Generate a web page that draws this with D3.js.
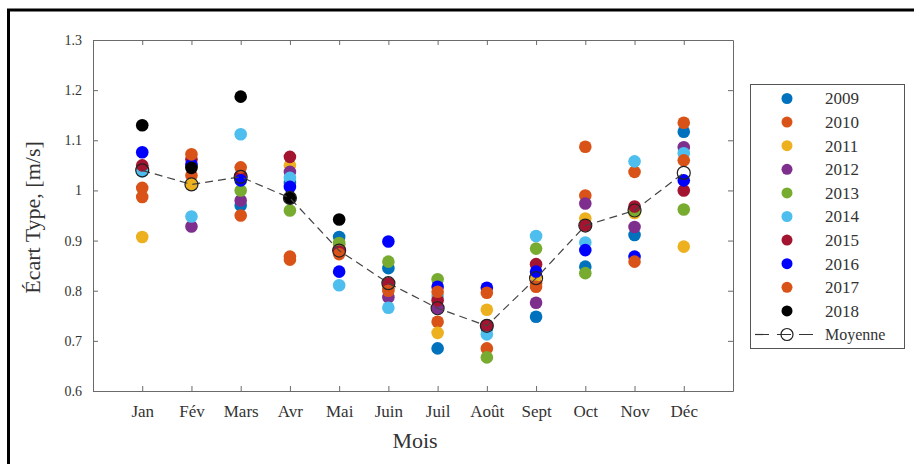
<!DOCTYPE html>
<html>
<head>
<meta charset="utf-8">
<script src="https://cdn.jsdelivr.net/npm/d3@7"></script>
<style>
  html, body { margin: 0; padding: 0; background: #fff; }
  svg { display: block; }
  text { font-family: "Liberation Serif", "DejaVu Serif", serif; fill: #333; }
</style>
</head>
<body>
<svg id="chart" width="914" height="464"></svg>
<script>
// Monthly standard deviation of wind speed, one series per year
const months = ["Jan", "Fév", "Mars", "Avr", "Mai", "Juin", "Juil", "Août", "Sept", "Oct", "Nov", "Déc"];
const years = ["2009", "2010", "2011", "2012", "2013", "2014", "2015", "2016", "2017", "2018"];
const yearColors = ["#0072BD", "#D95319", "#EDB120", "#7E2F8E", "#77AC30", "#4DBEEE", "#A2142F", "#0000FF", "#D95319", "#000000"];

const s2009 = [1.040, 1.012, 0.970, 1.015, 0.907, 0.845, 0.685, 0.725, 0.748, 0.848, 0.911, 1.117];
const s2010 = [1.005, 1.030, 0.950, 0.868, 0.892, 0.805, 0.738, 0.685, 0.815, 0.990, 1.037, 1.135];
const s2011 = [0.907, 1.012, 1.030, 1.050, 0.885, 0.810, 0.716, 0.762, 0.830, 0.944, 0.955, 0.888];
const s2012 = [1.045, 0.928, 0.980, 1.037, 0.880, 0.787, 0.765, 0.730, 0.776, 0.974, 0.927, 1.086];
const s2013 = [1.040, 1.048, 1.000, 0.960, 0.895, 0.858, 0.823, 0.667, 0.884, 0.835, 0.960, 0.962];
const s2014 = [1.038, 0.948, 1.112, 1.025, 0.811, 0.766, 0.790, 0.713, 0.909, 0.896, 1.058, 1.074];
const s2015 = [1.050, 1.062, 1.030, 1.067, 0.878, 0.815, 0.781, 0.731, 0.853, 0.930, 0.968, 1.000];
const s2016 = [1.076, 1.052, 1.020, 1.007, 0.838, 0.898, 0.808, 0.806, 0.838, 0.881, 0.868, 1.020];
const s2017 = [0.987, 1.072, 1.046, 0.862, 0.873, 0.800, 0.798, 0.796, 0.808, 1.087, 0.858, 1.060];
const s2018 = [1.130, 1.045, 1.187, 0.985, 0.942, null, null, null, null, null, null, null];
const moyenne = [1.040, 1.012, 1.027, 0.985, 0.880, 0.815, 0.765, 0.730, 0.825, 0.930, 0.960, 1.035];

const yTicks = [0.6, 0.7, 0.8, 0.9, 1.0, 1.1, 1.2, 1.3];
const yTickLabels = ["0.6", "0.7", "0.8", "0.9", "1", "1.1", "1.2", "1.3"];

const yearValues = [s2009, s2010, s2011, s2012, s2013, s2014, s2015, s2016, s2017, s2018];
const series = years.map((y, i) => ({ year: y, color: yearColors[i], values: yearValues[i] }));

const svg = d3.select("#chart");
const plot = { left: 93, right: 733, top: 40, bottom: 391 };

// Figure frame
svg.append("path")
  .attr("d", "M8.5,464V10H914")
  .attr("fill", "none").attr("stroke", "#000").attr("stroke-width", 3);

const x = d3.scaleLinear().domain([0, 13]).range([plot.left, plot.right]);
const y = d3.scaleLinear().domain([0.6, 1.3]).range([plot.bottom, plot.top]);
const monthIdx = months.map((m, i) => i + 1);

const axisColor = "#6a6a6a";
function styleAxis(g) {
  g.selectAll("path, line").attr("stroke", axisColor);
  g.selectAll("text").attr("fill", "#333");
}

svg.append("g").attr("transform", `translate(0,${plot.bottom})`)
  .call(d3.axisBottom(x).tickValues(monthIdx).tickFormat(i => months[i - 1]).tickSizeInner(-5).tickSizeOuter(0).tickPadding(14))
  .call(styleAxis)
  .call(g => g.selectAll("text").attr("font-size", 17).style("font-family", '"Liberation Serif", serif'));

svg.append("g").attr("transform", `translate(0,${plot.top})`)
  .call(d3.axisTop(x).tickValues(monthIdx).tickFormat("").tickSizeInner(-5).tickSizeOuter(0))
  .call(styleAxis);

svg.append("g").attr("transform", `translate(${plot.left},0)`)
  .call(d3.axisLeft(y).tickValues(yTicks).tickFormat((d, i) => yTickLabels[i]).tickSizeInner(-5).tickSizeOuter(0).tickPadding(11))
  .call(styleAxis)
  .call(g => g.selectAll("text").attr("font-size", 14).style("font-family", '"Liberation Serif", serif'));

svg.append("g").attr("transform", `translate(${plot.right},0)`)
  .call(d3.axisRight(y).tickValues(yTicks).tickFormat("").tickSizeInner(-5).tickSizeOuter(0))
  .call(styleAxis);

// Axis titles
svg.append("text")
  .attr("transform", `translate(40,${(plot.top + plot.bottom) / 2 + 2}) rotate(-90)`)
  .attr("text-anchor", "middle")
  .attr("font-size", 22)
  .text("Écart Type, [m/s]");

svg.append("text")
  .attr("x", (plot.left + plot.right) / 2 + 2)
  .attr("y", 448)
  .attr("text-anchor", "middle")
  .attr("font-size", 22)
  .text("Mois");

// Yearly points
const pts = svg.append("g");
series.forEach(s => {
  pts.selectAll(null)
    .data(s.values.map((v, i) => ({ v, i })).filter(d => d.v != null))
    .join("circle")
    .attr("cx", d => x(d.i + 1))
    .attr("cy", d => y(d.v))
    .attr("r", 6.3)
    .attr("fill", s.color);
});

// Monthly mean
const line = d3.line().x((d, i) => x(i + 1)).y(d => y(d));
svg.append("path")
  .datum(moyenne)
  .attr("d", line)
  .attr("fill", "none")
  .attr("stroke", "#444")
  .attr("stroke-width", 1.2)
  .attr("stroke-dasharray", "8,5");

svg.append("g").selectAll("circle")
  .data(moyenne)
  .join("circle")
  .attr("cx", (d, i) => x(i + 1))
  .attr("cy", d => y(d))
  .attr("r", 6.5)
  .attr("fill", "none")
  .attr("stroke", "#222")
  .attr("stroke-width", 1.2);

// Legend
const legend = { x: 750, y: 84, w: 154, h: 264, row: 23.6, first: 98.5 };
const lg = svg.append("g");
lg.append("rect")
  .attr("x", legend.x + 0.5).attr("y", legend.y + 0.5)
  .attr("width", legend.w).attr("height", legend.h)
  .attr("fill", "#fff").attr("stroke", "#555").attr("stroke-width", 1);

series.forEach((s, i) => {
  const cy = legend.first + i * legend.row;
  lg.append("circle").attr("cx", 787).attr("cy", cy).attr("r", 5.5).attr("fill", s.color);
  lg.append("text").attr("x", 825).attr("y", cy).attr("dy", "0.35em")
    .attr("font-size", 17).text(s.year);
});

const my = legend.first + years.length * legend.row;
lg.append("line")
  .attr("x1", 755).attr("x2", 820).attr("y1", my).attr("y2", my)
  .attr("stroke", "#333").attr("stroke-width", 1.2).attr("stroke-dasharray", "14,8");
lg.append("circle").attr("cx", 787).attr("cy", my).attr("r", 6)
  .attr("fill", "none").attr("stroke", "#222").attr("stroke-width", 1.2);
lg.append("text").attr("x", 825).attr("y", my).attr("dy", "0.35em")
  .attr("font-size", 16).text("Moyenne");
</script>
</body>
</html>
